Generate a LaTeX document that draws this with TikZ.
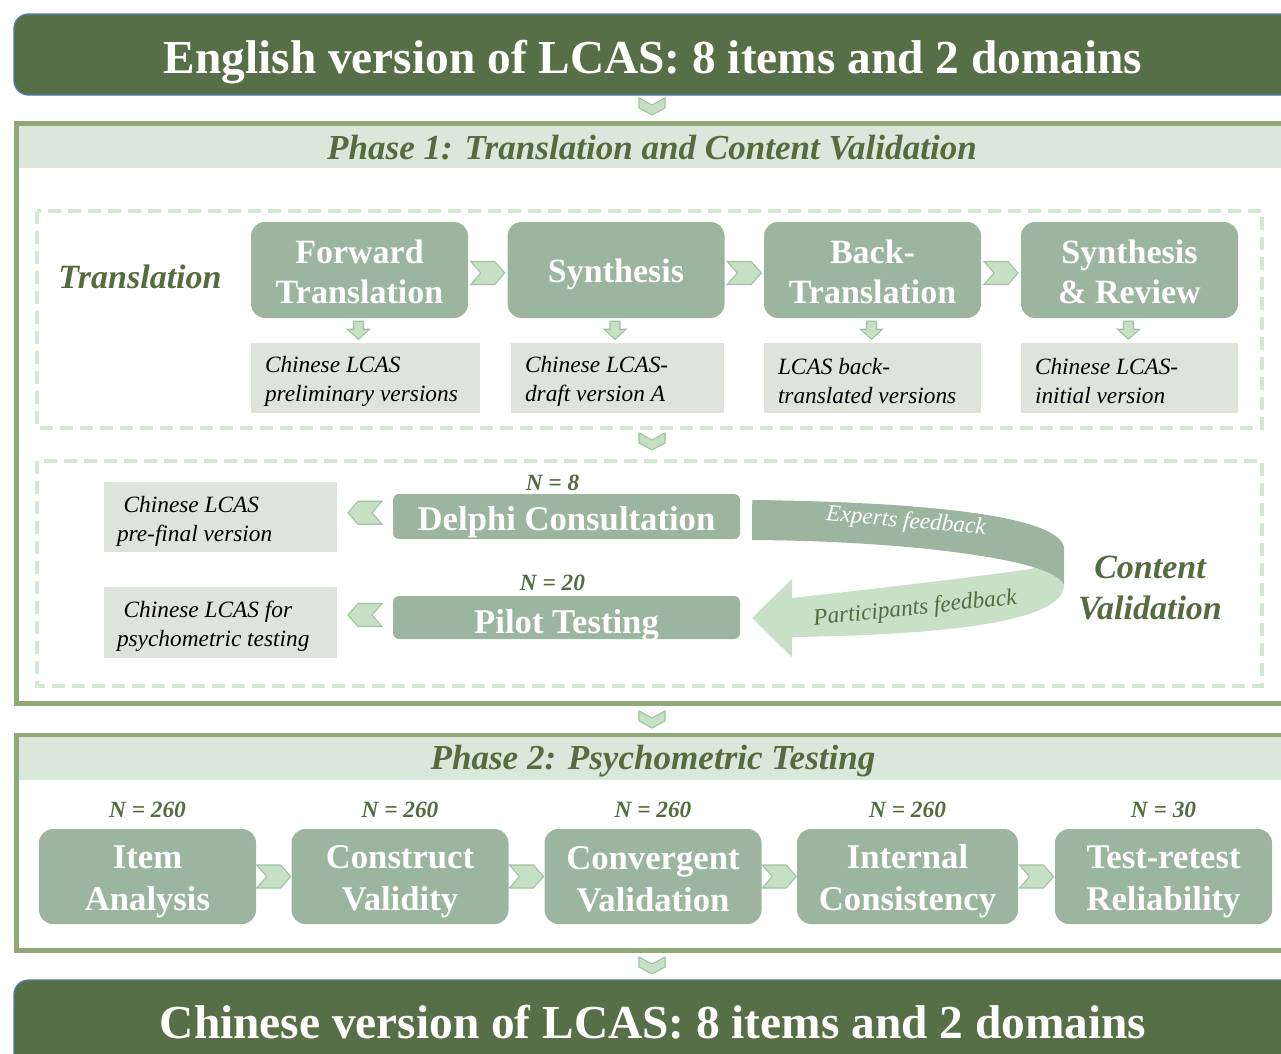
\documentclass[tikz,border=0pt]{standalone}
\usepackage{fontspec}
\setmainfont{Liberation Serif}
\usetikzlibrary{calc}
\definecolor{bannerG}{HTML}{566F46}
\definecolor{bannerB}{HTML}{4F7AAE}
\definecolor{frameG}{HTML}{8FA876}
\definecolor{headG}{HTML}{DAE8DB}
\definecolor{dashG}{HTML}{D3E7D3}
\definecolor{boxG}{HTML}{9CB59F}
\definecolor{outG}{HTML}{DEE3DC}
\definecolor{chevF}{HTML}{C6E0C6}
\definecolor{chevD}{HTML}{9FC29F}
\definecolor{titleG}{HTML}{556B40}
\definecolor{ribL}{HTML}{C7E0C6}
\tikzset{
  stepbox/.style={fill=boxG, rounded corners=10.5pt,
    minimum width=162.75pt, minimum height=72pt, inner sep=0pt},
  steptext/.style={text=white, font=\bfseries\fontsize{25.5}{30}\selectfont, align=center, inner sep=0pt},
  steptextB/.style={text=white, font=\bfseries\fontsize{26}{31.5}\selectfont, align=center, inner sep=0pt},
  flatbox/.style={fill=boxG, rounded corners=4.5pt, minimum width=260.25pt, inner sep=0pt},
  flattext/.style={text=white, font=\bfseries\fontsize{26}{31}\selectfont, inner sep=0pt},
  outbox/.style={fill=outG, minimum height=52.5pt, inner sep=0pt},
  outtext/.style={font=\itshape\fontsize{17.5}{21.75}\selectfont, align=left, inner sep=0pt},
  bannertext/.style={text=white, font=\bfseries\fontsize{35.5}{40}\selectfont, inner sep=0pt},
  phasetitle/.style={text=titleG, font=\bfseries\itshape\fontsize{26.3}{30}\selectfont, inner sep=0pt},
  seclabel/.style={text=titleG, font=\bfseries\itshape\fontsize{25.5}{30.75}\selectfont, align=center, inner sep=0pt},
  nlab/.style={text=titleG, font=\bfseries\itshape\fontsize{17.5}{20}\selectfont, inner sep=0pt},
  fbtext/.style={font=\itshape\fontsize{17.5}{20}\selectfont, inner sep=0pt},
  chev/.style={fill=chevF, draw=chevD, line width=0.8pt, line join=miter},
  dashframe/.style={draw=dashG, line width=3pt, dash pattern=on 9.75pt off 5.25pt},
  phaseframe/.style={draw=frameG, line width=3.75pt},
  chevR/.pic={\path[chev] (-17,-11.5) -- (7,-11.5) -- (17,0) -- (7,11.5) -- (-17,11.5) -- (-7,0) -- cycle;},
  chevL/.pic={\path[chev] (17,-11.5) -- (-7,-11.5) -- (-17,0) -- (-7,11.5) -- (17,11.5) -- (7,0) -- cycle;},
  chevDn/.pic={\path[chev] (-13,-8) -- (0,-1) -- (13,-8) -- (13,2) -- (0,9) -- (-13,2) -- cycle;},
  arrDn/.pic={\path[chev] (-5,-9) -- (5,-9) -- (5,-1) -- (11,-1) -- (0,9) -- (-11,-1) -- (-5,-1) -- cycle;}
}
\begin{document}
\begin{tikzpicture}[x=0.75pt,y=-0.75pt]
\useasboundingbox (0,0) rectangle (1281,1053);
\clip (0,0) rectangle (1281,1053);
\fill[white] (0,0) rectangle (1281,1053);

% banners
\draw[fill=bannerG, draw=bannerB, line width=1pt, rounded corners=11pt] (14,14) rectangle (1340,95);
\node[bannertext] (top) at (653,62) {English version of LCAS: 8 items and 2 domains};
\draw[fill=bannerG, draw=bannerB, line width=1pt, rounded corners=11pt] (14,980) rectangle (1340,1120);
\node[bannertext] (bot) at (653,1022) {Chinese version of LCAS: 8 items and 2 domains};

% phase 1 frame
\draw[phaseframe] (16.5,123.5) rectangle (1330,703.5);
\fill[headG] (18.5,125.5) rectangle (1330,168);
\node[phasetitle] (p1) at (652,147.5) {Phase 1: Translation and Content Validation};

% phase 2 frame
\draw[phaseframe] (16.5,735) rectangle (1330,950);
\fill[headG] (18.5,737) rectangle (1330,780);
\node[phasetitle] (p2) at (653,761) {Phase 2: Psychometric Testing};

% section chevrons
\pic at (652,106) {chevDn};
\pic at (652,441) {chevDn};
\pic at (652,719) {chevDn};
\pic at (652,965) {chevDn};

% translation block
\draw[dashframe] (37,211) rectangle (1262,428);
\node[seclabel] (tl) at (140,277) {Translation};
\node[stepbox] (ft) at (359.5,270) {};
\node[stepbox] (sy) at (616,270) {};
\node[stepbox] (bt) at (872.5,270) {};
\node[stepbox] (sr) at (1129.5,270) {};
\node[steptext] (ftt) at ($(ft)+(0,1.5)$) {Forward\\Translation};
\node[steptext, anchor=base] (syt) at ($(sy)+(0,12)$) {Synthesis};
\node[steptext] (btt) at ($(bt)+(0,1.5)$) {Back-\\Translation};
\node[steptext] (srt) at ($(sr)+(0,1.5)$) {Synthesis\\\& Review};
\pic at ($(ft.east)!0.5!(sy.west)+(0,3)$) {chevR};
\pic at ($(sy.east)!0.5!(bt.west)+(0,3)$) {chevR};
\pic at ($(bt.east)!0.5!(sr.west)+(0,3)$) {chevR};

\node[outbox, minimum width=171.75pt] (o1) at (365.5,378) {};
\node[outbox, minimum width=159.75pt] (o2) at (617.5,378) {};
\node[outbox, minimum width=162.75pt] (o3) at (872.5,378) {};
\node[outbox, minimum width=162.75pt] (o4) at (1129.5,378) {};
\node[outtext, anchor=west] (o1t) at ($(o1.west)+(14,3.5)$) {Chinese LCAS\\preliminary versions};
\node[outtext, anchor=west] (o2t) at ($(o2.west)+(14,3.5)$) {Chinese LCAS-\\draft version A};
\node[outtext, anchor=west] (o3t) at ($(o3.west)+(14,3.5)$) {LCAS back-\\translated versions};
\node[outtext, anchor=west] (o4t) at ($(o4.west)+(14,3.5)$) {Chinese LCAS-\\initial version};
\pic at ($(ft.south)+(-1,12)$) {arrDn};
\pic at ($(sy.south)+(-1,12)$) {arrDn};
\pic at ($(bt.south)+(-1,12)$) {arrDn};
\pic at ($(sr.south)+(-1,12)$) {arrDn};

% content validation block
\draw[dashframe] (37,461) rectangle (1262,686);
\node[flatbox, minimum height=33.75pt] (dc) at (566.5,516.5) {};
\node[flatbox, minimum height=32.25pt] (pt) at (566.5,617.5) {};
\node[flattext, anchor=base] (dct) at ($(dc)+(0,13.5)$) {Delphi Consultation};
\node[flattext, anchor=base] (ptt) at ($(pt)+(0,15.5)$) {Pilot Testing};
\node[nlab] (n8) at ($(dc.north)+(-14,-11)$) {N = 8};
\node[nlab] (n20) at ($(pt.north)+(-14,-13)$) {N = 20};
\node[outbox, minimum width=174.75pt] (c1) at (220.5,517) {};
\node[outbox, minimum width=174.75pt, minimum height=53.25pt] (c2) at (220.5,622.5) {};
\node[outtext, anchor=west] (c1t) at ($(c1.west)+(13,4)$) {\hspace*{5pt}Chinese LCAS\\pre-final version};
\node[outtext, anchor=west] (c2t) at ($(c2.west)+(13,4)$) {\hspace*{5pt}Chinese LCAS for\\psychometric testing};
\pic at ($(dc.west)!0.5!(c1.east)+(0,-4)$) {chevL};
\pic at ($(pt.west)!0.5!(c2.east)+(0,-5)$) {chevL};

% feedback ribbon
\coordinate (rs) at ($(dc.east)+(12,-16.5)$);
\fill[boxG] (rs) .. controls (920,502) and (1060,515) .. (1064,548) -- (1064,585)
  .. controls (1060,578) and (1050,573) .. (1036,568)
  .. controls (1000,556) and (900,541) .. (752,540) -- cycle;
\fill[ribL] (1036,568) .. controls (1050,573) and (1060,578) .. (1064,585)
  .. controls (1064,610) and (1010,634) .. (792,637) -- (792,657) -- (752,618) -- (792,579) -- (792,598)
  .. controls (900,586) and (1000,574) .. (1036,568) -- cycle;
\node[fbtext, text=white, rotate=-5] (ef) at (906,522) {Experts feedback};
\node[fbtext, text=titleG, rotate=6] (pf) at (915,609) {Participants feedback};
\node[seclabel] (cv) at (1150,588) {Content\\Validation};

% phase 2 boxes
\node[stepbox, minimum height=71.25pt] (ia) at (147.5,876.5) {};
\node[stepbox, minimum height=71.25pt] (cs) at (400,876.5) {};
\node[stepbox, minimum height=71.25pt] (cg) at (653,876.5) {};
\node[stepbox, minimum height=71.25pt, minimum width=165.75pt] (ic) at (907.5,876.5) {};
\node[stepbox, minimum height=71.25pt] (tr) at (1163.5,876.5) {};
\node[steptextB] (iat) at ($(ia)+(0,5)$) {Item\\Analysis};
\node[steptextB] (cst) at ($(cs)+(0,5)$) {Construct\\Validity};
\node[steptextB] (cgt) at ($(cg)+(0,2.5)$) {Convergent\\Validation};
\node[steptextB] (ict) at ($(ic)+(0,5)$) {Internal\\Consistency};
\node[steptextB] (trt) at ($(tr)+(0,5)$) {Test-retest\\Reliability};
\pic at ($(ia.east)!0.5!(cs.west)$) {chevR};
\pic at ($(cs.east)!0.5!(cg.west)$) {chevR};
\pic at ($(cg.east)!0.5!(ic.west)$) {chevR};
\pic at ($(ic.east)!0.5!(tr.west)$) {chevR};
\node[nlab] at ($(ia.north)+(0,-19)$) {N = 260};
\node[nlab] at ($(cs.north)+(0,-19)$) {N = 260};
\node[nlab] at ($(cg.north)+(0,-19)$) {N = 260};
\node[nlab] at ($(ic.north)+(0,-19)$) {N = 260};
\node[nlab] at ($(tr.north)+(0,-19)$) {N = 30};
\end{tikzpicture}
\end{document}
